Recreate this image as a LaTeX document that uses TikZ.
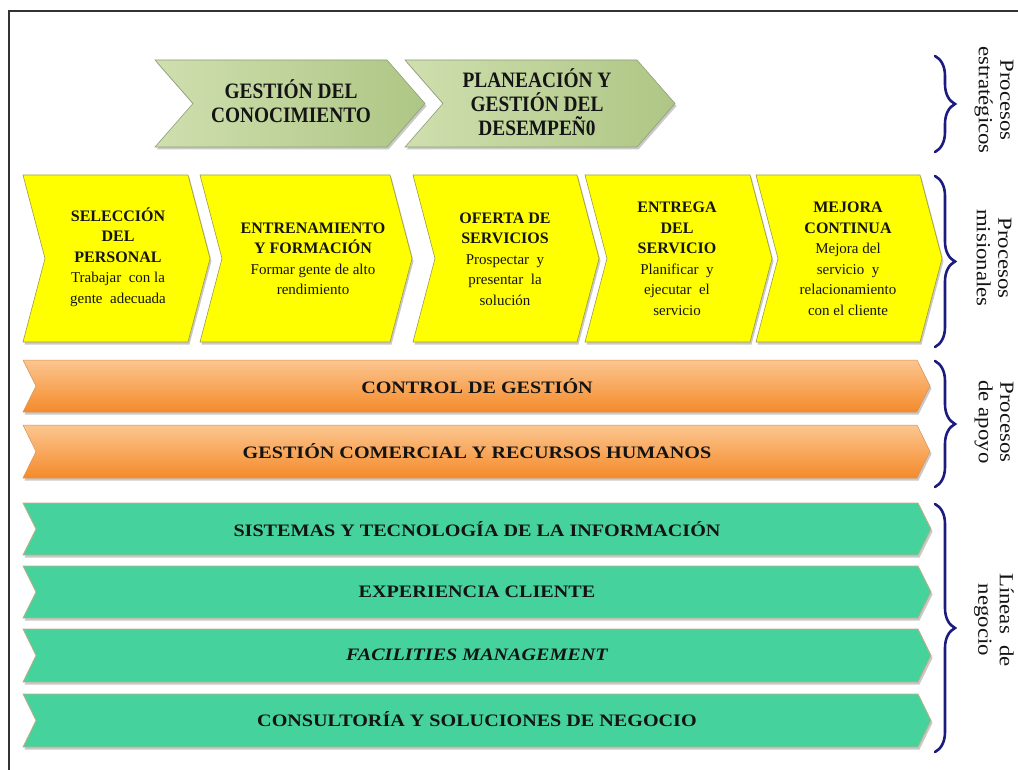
\documentclass[tikz,border=0pt]{standalone}
\usepackage{fontspec}
\setmainfont{Liberation Serif}
\newfontfamily\widefont[FakeStretch=1.15]{Liberation Serif}
\newfontfamily\narrowfont[FakeStretch=0.88]{Liberation Serif}
\newfontfamily\sidefont[FakeStretch=1.14]{Liberation Serif}
\usetikzlibrary{shadows,decorations.pathreplacing}
\definecolor{stgA}{HTML}{CFDFAE}
\definecolor{stgB}{HTML}{AEC685}
\definecolor{stgD}{HTML}{8E9E76}
\definecolor{ylw}{HTML}{FFFF00}
\definecolor{ylwD}{HTML}{9C9C45}
\definecolor{orA}{HTML}{FCC690}
\definecolor{orB}{HTML}{F48A2A}
\definecolor{orD}{HTML}{D9955A}
\definecolor{teal}{HTML}{45D29C}
\definecolor{tealD}{HTML}{C6AE88}
\definecolor{navy}{HTML}{1B1B80}
\definecolor{txt}{HTML}{141414}
\newcommand\mychev[6]{%
  \path[#1] (#2,#4) -- (#3,#4) -- ({#3+#6},{(#4+#5)/2}) -- (#3,#5) -- (#2,#5) -- ({#2+#6},{(#4+#5)/2}) -- cycle;}
\newcommand\bodyt[1]{{\mdseries\fontsize{15}{20.5}\selectfont #1}}
\begin{document}
\begin{tikzpicture}[x=1pt,y=-1pt,
  shad/.style={drop shadow={shadow xshift=1.5pt,shadow yshift=-2.5pt,opacity=0.35,fill=black!60}},
  stratshape/.style={shad,left color=stgA,right color=stgB,draw=stgD,line width=0.6pt},
  misshape/.style={shad,fill=ylw,draw=ylwD,line width=0.6pt},
  apoyoshape/.style={shad,top color=orA,bottom color=orB,draw=orD,line width=0.5pt},
  lineshape/.style={shad,fill=teal,draw=tealD,line width=0.8pt},
  strattext/.style={align=center,text=txt,font=\narrowfont\bfseries\fontsize{22}{24}\selectfont},
  mistext/.style={align=center,text=txt,font=\bfseries\fontsize{16}{20.5}\selectfont},
  bandtext/.style={text=txt,font=\widefont\bfseries\fontsize{17.5}{20}\selectfont},
  sidetext/.style={align=center,rotate=-90,text=txt,inner sep=1pt,font=\sidefont\fontsize{20}{21.5}\selectfont},
  bracestyle/.style={decorate,decoration={brace,amplitude=20pt,aspect=0.5},draw=navy,line width=2.6pt,line cap=round}]
\useasboundingbox (0,0) rectangle (1018,770);
\fill[white] (0,0) rectangle (1018,770);
% frame
\draw[black!80,line width=1.2pt] (9,770) -- (9,11) -- (1018,11);

% strategic
\mychev{stratshape}{155}{387}{60}{147}{38}
\mychev{stratshape}{405}{637}{60}{147}{38}
\node[strattext] (st1) at (291,101) {GESTIÓN DEL\\CONOCIMIENTO};
\node[strattext] (st2) at (537,102) {PLANEACIÓN Y\\GESTIÓN DEL\\DESEMPEÑ0};

% misionales
\mychev{misshape}{23}{188}{175}{342}{22}
\mychev{misshape}{200}{390}{175}{342}{22}
\mychev{misshape}{413}{577}{175}{342}{22}
\mychev{misshape}{585}{750}{175}{342}{22}
\mychev{misshape}{756}{920}{175}{342}{22}
\node[mistext] (m1) at (118,257) {SELECCIÓN\\DEL\\PERSONAL\\\bodyt{Trabajar\ \ con la}\\\bodyt{gente\ \ adecuada}};
\node[mistext] (m2) at (313,259) {ENTRENAMIENTO\\Y FORMACIÓN\\\bodyt{Formar\ gente\ de alto}\\\bodyt{rendimiento}};
\node[mistext] (m3) at (505,259) {OFERTA DE\\SERVICIOS\\\bodyt{Prospectar\ \ y}\\\bodyt{presentar\ \ la}\\\bodyt{solución}};
\node[mistext] (m4) at (677,259) {ENTREGA\\DEL\\SERVICIO\\\bodyt{Planificar\ \ y}\\\bodyt{ejecutar\ \ el}\\\bodyt{servicio}};
\node[mistext] (m5) at (848,259) {MEJORA\\CONTINUA\\\bodyt{Mejora del}\\\bodyt{servicio\ \ y}\\\bodyt{relacionamiento}\\\bodyt{con el cliente}};

% apoyo
\mychev{apoyoshape}{23}{917}{360}{412}{13}
\mychev{apoyoshape}{23}{917}{425}{478}{13}
\node[bandtext] (a1) at (477,386) {CONTROL DE GESTIÓN};
\node[bandtext] (a2) at (477,451) {GESTIÓN COMERCIAL Y RECURSOS HUMANOS};

% lineas de negocio
\mychev{lineshape}{23}{918}{503}{555}{13}
\mychev{lineshape}{23}{918}{566}{618}{13}
\mychev{lineshape}{23}{918}{629}{682}{13}
\mychev{lineshape}{23}{918}{694}{747}{13}
\node[bandtext] (l1) at (477,529) {SISTEMAS Y TECNOLOGÍA DE LA INFORMACIÓN};
\node[bandtext] (l2) at (477,592) {EXPERIENCIA CLIENTE};
\node[bandtext] (l3) at (477,655) {\itshape FACILITIES MANAGEMENT};
\node[bandtext] (l4) at (477,719) {CONSULTORÍA Y SOLUCIONES DE NEGOCIO};

% braces
\coordinate (b1t) at (935,56);  \coordinate (b1b) at (935,152);
\coordinate (b2t) at (935,176); \coordinate (b2b) at (935,347);
\coordinate (b3t) at (935,361); \coordinate (b3b) at (935,487);
\coordinate (b4t) at (935,504); \coordinate (b4b) at (935,752);
\draw[bracestyle] (b1t) -- (b1b);
\draw[bracestyle] (b2t) -- (b2b);
\draw[bracestyle] (b3t) -- (b3b);
\draw[bracestyle] (b4t) -- (b4b);

% side labels
\node[sidetext] (s1) at (994,100) {Procesos\\estratégicos};
\node[sidetext] (s2) at (994,258) {Procesos\\misionales};
\node[sidetext] (s3) at (994,422) {Procesos\\de apoyo};
\node[sidetext] (s4) at (994,620) {Líneas\ \ de\\negocio};
\end{tikzpicture}
\end{document}
